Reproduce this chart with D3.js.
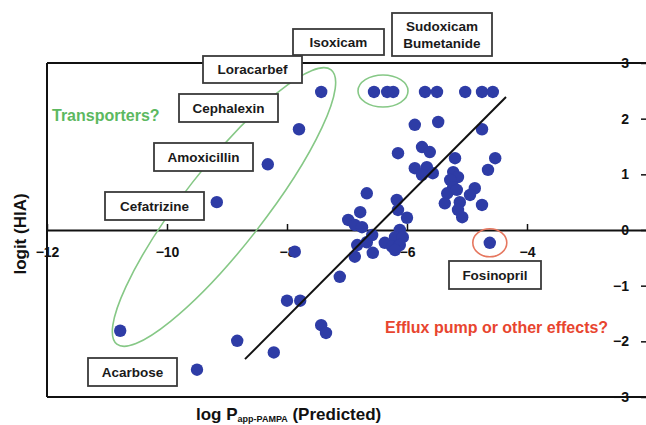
<!DOCTYPE html>
<html><head><meta charset="utf-8">
<script src="https://cdn.jsdelivr.net/npm/d3@7"></script>
<style>
html,body{margin:0;padding:0;background:#fff;}
svg{display:block;font-family:"Liberation Sans",Arial,sans-serif;}
</style></head><body>
<svg id="chart" width="646" height="425"></svg>
<script>
// ---- data ----
const xTicks = [-12, -10, -8, -6, -4];
const yTicks = [3, 2, 1, 0, -1, -2, -3];

const logPapp = [
  -7.43, -7.80, -8.32, -9.17, -10.78, -9.50,
  -6.55, -6.33, -6.23, -5.70, -5.50, -5.03, -4.75, -4.57,
  -5.87, -5.48, -4.75, -6.15, -5.75, -5.62, -5.20, -4.53, -4.65,
  -5.87, -5.67, -5.57, -5.75, -5.23, -5.15, -5.28, -5.23, -5.33, -5.17,
  -5.37, -4.87, -4.95, -5.12, -5.15, -5.08, -4.75,
  -6.67, -6.17, -6.15, -6.00, -6.78, -6.98, -6.87, -6.75, -6.12,
  -6.20, -6.07, -6.37, -6.25, -6.12, -6.20, -6.83, -6.67, -6.58, -6.57, -6.87,
  -7.12, -7.87, -8.00, -7.78, -7.43, -7.35, -8.83, -8.22, -4.62
];
const logitHIA = [
  2.48, 1.81, 1.18, 0.50, -1.81, -2.51,
  2.48, 2.48, 2.48, 2.48, 2.48, 2.48, 2.48, 2.48,
  1.89, 1.94, 1.81, 1.38, 1.49, 1.40, 1.29, 1.29, 1.08,
  1.11, 1.13, 1.02, 0.99, 1.04, 0.95, 0.90, 0.77, 0.66, 0.72,
  0.48, 0.75, 0.63, 0.50, 0.36, 0.23, 0.45,
  0.66, 0.54, 0.36, 0.22, 0.32, 0.18, 0.09, 0.05, 0.00,
  -0.13, -0.13, -0.23, -0.30, -0.27, -0.36, -0.27, -0.22, -0.09, -0.41, -0.48,
  -0.84, -0.39, -1.27, -1.27, -1.71, -1.85, -1.99, -2.20, -0.23
];
const fitX = [-8.7, -4.35];
const fitY = [-2.32, 2.39];

const compoundNames = [["Isoxicam"], ["Sudoxicam", "Bumetanide"], ["Loracarbef"], ["Cephalexin"],
  ["Amoxicillin"], ["Cefatrizine"], ["Acarbose"], ["Fosinopril"]];

// ---- layout ----
const svg = d3.select("#chart");
const L = 47, R = 647, T = 63, B = 397;
const x = d3.scaleLinear().domain([-12, -2]).range([L, R]);
const y = d3.scaleLinear().domain([-3, 3]).range([B, T]);

// frame
svg.append("line").attr("x1", L).attr("x2", R).attr("y1", T).attr("y2", T)
  .attr("stroke", "#111").attr("stroke-width", 2);
svg.append("line").attr("x1", L).attr("x2", R).attr("y1", B).attr("y2", B)
  .attr("stroke", "#111").attr("stroke-width", 2);
svg.append("line").attr("x1", L).attr("x2", L).attr("y1", T).attr("y2", B)
  .attr("stroke", "#111").attr("stroke-width", 2);

// x axis at y = 0
const xAxis = svg.append("g").attr("transform", `translate(0,${y(0)})`)
  .call(d3.axisBottom(x).tickValues(xTicks).tickFormat(d3.format("d"))
    .tickSizeInner(-6).tickSizeOuter(0).tickPadding(17));
xAxis.select(".domain").attr("stroke", "#111").attr("stroke-width", 2);
xAxis.selectAll(".tick line").attr("stroke", "#111").attr("stroke-width", 1.5);
xAxis.selectAll(".tick text").attr("font-family", "Liberation Sans, Arial, sans-serif")
  .attr("font-size", 14).attr("font-weight", "bold").attr("fill", "#111");

// y axis on the right
const yAxis = svg.append("g").attr("transform", `translate(${R},0)`)
  .call(d3.axisLeft(y).tickValues(yTicks).tickFormat(d3.format("d"))
    .tickSizeInner(6).tickSizeOuter(0).tickPadding(12));
yAxis.select(".domain").attr("stroke", "#111").attr("stroke-width", 2);
yAxis.selectAll(".tick line").attr("stroke", "#111").attr("stroke-width", 1.5);
yAxis.selectAll(".tick text").attr("font-family", "Liberation Sans, Arial, sans-serif")
  .attr("font-size", 14).attr("font-weight", "bold").attr("fill", "#111");

// annotation ellipses
svg.append("ellipse").attr("cx", 224).attr("cy", 207).attr("rx", 174).attr("ry", 40)
  .attr("transform", "rotate(-52,224,207)")
  .attr("fill", "none").attr("stroke", "#86c886").attr("stroke-width", 1.6);
svg.append("ellipse").attr("cx", 383).attr("cy", 91).attr("rx", 25).attr("ry", 16)
  .attr("fill", "none").attr("stroke", "#86c886").attr("stroke-width", 1.6);
svg.append("ellipse").attr("cx", x(-4.62)).attr("cy", y(-0.23)).attr("rx", 17).attr("ry", 14)
  .attr("fill", "none").attr("stroke", "#e6775f").attr("stroke-width", 1.6);

// points
const pts = logPapp.map((v, i) => ({ x: v, y: logitHIA[i] }));
svg.append("g").selectAll("circle").data(pts).join("circle")
  .attr("cx", d => x(d.x)).attr("cy", d => y(d.y)).attr("r", 6.2)
  .attr("fill", "#2e3ca6");

// regression line
svg.append("path")
  .datum(fitX.map((v, i) => [v, fitY[i]]))
  .attr("d", d3.line().x(d => x(d[0])).y(d => y(d[1])))
  .attr("stroke", "#111").attr("stroke-width", 2).attr("fill", "none");

// label boxes
const boxes = [
  [293, 29, 384, 55], [392, 13, 492, 56], [203, 56, 302, 83], [179, 94, 278, 122],
  [154, 143, 253, 171], [105, 192, 204, 220], [88, 358, 177, 386], [449, 261, 541, 289]
];
const bg = svg.append("g");
compoundNames.forEach((lines, i) => {
  const [x0, y0, x1, y1] = boxes[i];
  bg.append("rect").attr("x", x0).attr("y", y0).attr("width", x1 - x0).attr("height", y1 - y0)
    .attr("fill", "#fff").attr("stroke", "#3a3a3a").attr("stroke-width", 1.8);
  const cx = (x0 + x1) / 2, cy = (y0 + y1) / 2;
  const lh = 16.5;
  lines.forEach((t, j) => {
    bg.append("text").attr("x", cx)
      .attr("y", cy + (j - (lines.length - 1) / 2) * lh + 4.8)
      .attr("text-anchor", "middle").attr("font-size", 13.5).attr("font-weight", "bold")
      .attr("fill", "#1a1a1a").text(t);
  });
});

// annotation texts
svg.append("text").attr("x", 52).attr("y", 121).attr("font-size", 16).attr("font-weight", "bold")
  .attr("fill", "#5cb860").text("Transporters?");
svg.append("text").attr("x", 385).attr("y", 333).attr("font-size", 16).attr("font-weight", "bold")
  .attr("fill", "#e8452f").text("Efflux pump or other effects?");

// axis titles
svg.append("text").attr("transform", "translate(26,234) rotate(-90)")
  .attr("text-anchor", "middle").attr("font-size", 17).attr("font-weight", "bold")
  .attr("fill", "#111").text("logit (HIA)");
const xt = svg.append("text").attr("x", 196).attr("y", 420).attr("font-size", 17)
  .attr("font-weight", "bold").attr("fill", "#111");
xt.append("tspan").text("log P");
xt.append("tspan").attr("font-size", 9).attr("dy", 2).text("app-PAMPA");
xt.append("tspan").attr("dy", -2).text(" (Predicted)");
</script>
</body></html>
